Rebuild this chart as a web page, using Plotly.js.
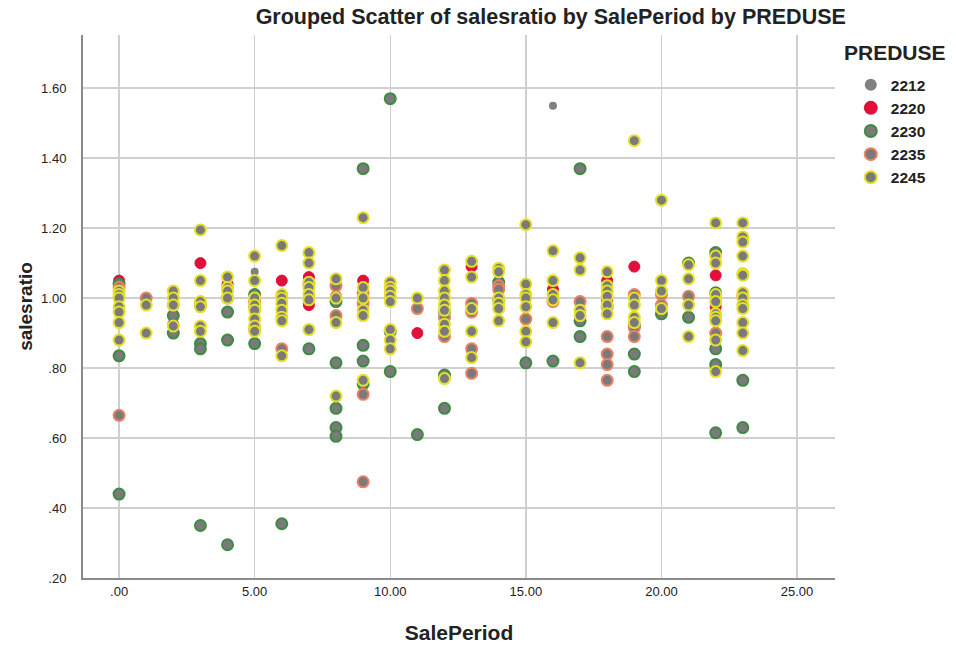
<!DOCTYPE html>
<html>
<head>
<meta charset="utf-8">
<script src="https://cdn.plot.ly/plotly-3.0.1.min.js"></script>
<style>html,body{margin:0;padding:0;background:#fff;}#chart{width:956px;height:649px;}</style>
</head>
<body>
<div id="chart"></div>
<script>
// PREDUSE groups: SalePeriod (x) and salesratio (y)
const x2212 = [5, 16];
const y2212 = [1.075, 1.55];

const x2220 = [0, 2, 3, 4, 6, 7, 7, 8, 9, 11, 13, 14, 16, 18, 18, 19, 22, 22];
const y2220 = [1.05, 0.925, 1.10, 1.04, 1.05, 1.06, 0.98, 1.005, 1.05, 0.90, 1.09, 1.04, 1.025, 1.05, 0.995, 1.09, 1.065, 0.975];

const x2230 = [0, 0, 0, 2, 2, 3, 3, 3, 4, 4, 4, 5, 5, 6, 7, 8, 8, 8, 8, 8, 9, 9, 9, 9, 10, 10, 10, 11, 12, 12, 12, 14, 14, 15, 16, 17, 17, 17, 19, 19, 19, 20, 21, 21, 22, 22, 22, 22, 22, 23, 23];
const y2230 = [1.04, 0.835, 0.44, 0.95, 0.90, 0.87, 0.855, 0.35, 0.96, 0.88, 0.295, 1.01, 0.87, 0.355, 0.855, 0.99, 0.815, 0.685, 0.63, 0.605, 1.37, 0.865, 0.82, 0.755, 1.57, 0.905, 0.79, 0.61, 0.96, 0.78, 0.685, 1.045, 0.995, 0.815, 0.82, 1.37, 0.935, 0.89, 0.92, 0.84, 0.79, 0.955, 1.10, 0.945, 1.13, 1.015, 0.855, 0.81, 0.615, 0.765, 0.63];

const x2235 = [0, 0, 1, 2, 3, 4, 5, 5, 5, 6, 7, 8, 8, 9, 9, 9, 9, 11, 12, 12, 13, 13, 13, 13, 14, 14, 15, 16, 17, 18, 18, 18, 18, 18, 19, 19, 19, 20, 20, 21, 22, 23];
const y2235 = [1.03, 0.665, 1.00, 0.98, 0.98, 1.00, 0.99, 0.975, 0.91, 0.855, 1.04, 1.035, 0.95, 1.015, 0.985, 0.725, 0.475, 0.97, 0.945, 0.89, 0.985, 0.96, 0.855, 0.785, 1.035, 1.025, 0.94, 0.99, 0.99, 0.975, 0.89, 0.84, 0.81, 0.765, 1.01, 0.915, 0.89, 1.01, 0.98, 1.005, 0.90, 1.005];

const x2245 = [0, 0, 0, 0, 0, 0, 0, 1, 1, 2, 2, 2, 2, 3, 3, 3, 3, 3, 3, 4, 4, 4, 4, 5, 5, 5, 5, 5, 5, 5, 5, 6, 6, 6, 6, 6, 6, 6, 6, 7, 7, 7, 7, 7, 7, 7, 8, 8, 8, 8, 9, 9, 9, 9, 9, 9, 10, 10, 10, 10, 10, 10, 10, 10, 11, 12, 12, 12, 12, 12, 12, 12, 12, 12, 13, 13, 13, 13, 13, 14, 14, 14, 14, 14, 14, 15, 15, 15, 15, 15, 15, 15, 16, 16, 16, 16, 16, 17, 17, 17, 17, 17, 18, 18, 18, 18, 18, 18, 19, 19, 19, 19, 19, 20, 20, 20, 20, 21, 21, 21, 21, 22, 22, 22, 22, 22, 22, 22, 22, 22, 22, 23, 23, 23, 23, 23, 23, 23, 23, 23, 23, 23, 23, 23];
const y2245 = [1.02, 1.01, 1.00, 0.975, 0.96, 0.93, 0.88, 0.98, 0.90, 1.02, 1.00, 0.98, 0.92, 1.195, 1.05, 0.99, 0.975, 0.92, 0.905, 1.06, 1.03, 1.02, 1.00, 1.12, 1.05, 1.00, 0.98, 0.965, 0.94, 0.92, 0.905, 1.15, 1.01, 1.00, 0.985, 0.965, 0.945, 0.935, 0.835, 1.13, 1.10, 1.045, 1.03, 1.01, 0.995, 0.91, 1.055, 1.00, 0.93, 0.72, 1.23, 1.03, 1.00, 0.965, 0.95, 0.765, 1.045, 1.03, 1.02, 1.005, 0.99, 0.91, 0.88, 0.855, 1.00, 1.08, 1.05, 1.02, 1.00, 0.98, 0.965, 0.925, 0.905, 0.77, 1.105, 1.06, 0.97, 0.905, 0.83, 1.085, 1.075, 1.00, 0.985, 0.97, 0.935, 1.21, 1.04, 1.01, 1.00, 0.975, 0.905, 0.875, 1.135, 1.05, 1.01, 0.995, 0.93, 1.115, 1.08, 0.965, 0.95, 0.815, 1.075, 1.035, 1.02, 1.005, 0.98, 0.955, 1.45, 1.00, 0.98, 0.945, 0.93, 1.28, 1.05, 1.02, 0.97, 1.095, 1.055, 0.98, 0.89, 1.215, 1.12, 1.10, 1.01, 0.99, 0.955, 0.945, 0.935, 0.88, 0.79, 1.215, 1.175, 1.16, 1.12, 1.07, 1.065, 1.015, 1.00, 0.98, 0.97, 0.93, 0.90, 0.85];

const xTickVals = [0, 5, 10, 15, 20, 25];
const xTickText = ['.00', '5.00', '10.00', '15.00', '20.00', '25.00'];
const yTickVals = [0.2, 0.4, 0.6, 0.8, 1.0, 1.2, 1.4, 1.6];
const yTickText = ['.20', '.40', '.60', '.80', '1.00', '1.20', '1.40', '1.60'];

const FILL = '#7a7a7a';
function tr(name, x, y, fill, line, lw, size) {
  return {
    type: 'scatter', mode: 'markers', name: name, x: x, y: y,
    marker: {color: fill, size: size, line: {color: line, width: lw}},
    hoverinfo: 'x+y+name'
  };
}
const data = [
  tr('2212', x2212, y2212, '#808080', '#808080', 0, 8),
  tr('2220', x2220, y2220, '#e0103a', '#e0103a', 1, 11),
  tr('2230', x2230, y2230, FILL, '#3f8a45', 2, 11),
  tr('2235', x2235, y2235, FILL, '#ec8060', 2, 11),
  tr('2245', x2245, y2245, FILL, '#e4e02a', 2, 11)
];

const FONT = 'Liberation Sans, Arial, sans-serif';
const layout = {
  width: 956, height: 649,
  paper_bgcolor: '#ffffff', plot_bgcolor: '#ffffff',
  margin: {l: 83, r: 121, t: 35, b: 71, pad: 0},
  font: {family: FONT, color: '#222222'},
  title: {
    text: '<b>Grouped Scatter of salesratio by SalePeriod by PREDUSE</b>',
    font: {family: FONT, size: 21.5, color: '#222222'},
    x: 0.622, xanchor: 'center', y: 0.975, yanchor: 'middle', xref: 'paper', yref: 'container'
  },
  xaxis: {
    range: [-1.33, 26.4], tickvals: xTickVals, ticktext: xTickText,
    showgrid: true, gridcolor: '#cfcfcf', gridwidth: 1.5,
    zeroline: false, showline: true, linecolor: '#8a8a8a', linewidth: 2,
    ticks: '', tickfont: {size: 13, color: '#222222', family: FONT},
    title: {text: '<b>SalePeriod</b>', font: {size: 21, family: FONT, color: '#222222'}, standoff: 28}
  },
  yaxis: {
    range: [0.2, 1.752], tickvals: yTickVals, ticktext: yTickText,
    showgrid: true, gridcolor: '#cfcfcf', gridwidth: 1.5,
    zeroline: false, showline: true, linecolor: '#8a8a8a', linewidth: 2,
    ticks: '', ticklabelstandoff: 12, tickfont: {size: 13, color: '#222222', family: FONT},
    title: {text: '<b>salesratio</b>', font: {size: 19, family: FONT, color: '#222222'}, standoff: 3}
  },
  legend: {
    x: 1.021, xanchor: 'left', y: 0.939, yanchor: 'top',
    font: {size: 15.5, family: FONT, color: '#222222', weight: 'bold'},
    itemsizing: 'constant', tracegroupgap: 0, bgcolor: 'rgba(0,0,0,0)',
    itemwidth: 30
  },
  annotations: [{
    text: '<b>PREDUSE</b>', xref: 'paper', yref: 'paper',
    x: (842 - 83) / 752, xanchor: 'left', y: 1 - (52 - 35) / 543, yanchor: 'middle',
    showarrow: false, font: {size: 21, family: FONT, color: '#222222'}
  }],
  showlegend: true
};
Plotly.newPlot('chart', data, layout, {displayModeBar: false, staticPlot: true});
</script>
</body>
</html>
